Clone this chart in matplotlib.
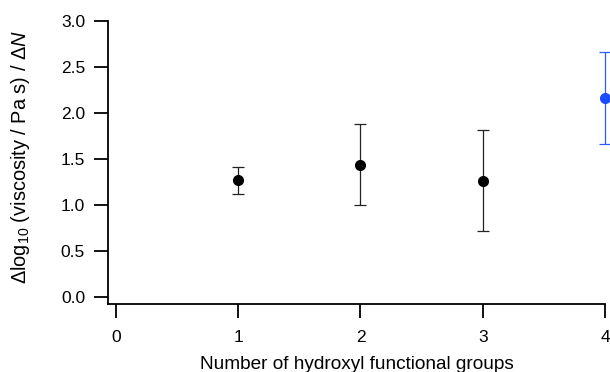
import matplotlib
matplotlib.use('Agg')
import matplotlib.pyplot as plt

plt.rcParams['font.family'] = ['Liberation Sans', 'DejaVu Sans']
plt.rcParams['mathtext.fontset'] = 'custom'
plt.rcParams['mathtext.rm'] = 'Liberation Sans'
plt.rcParams['mathtext.it'] = 'Liberation Sans:italic'

# slope of log viscosity per added functional group
groups = [1, 2, 3]
slope = [1.27, 1.44, 1.265]
slope_err = [0.145, 0.44, 0.545]

groups_hl = [4]
slope_hl = [2.16]
slope_hl_err = [0.50]

x_ticks = [0, 1, 2, 3, 4]
y_ticks = [0.0, 0.5, 1.0, 1.5, 2.0, 2.5, 3.0]

fig = plt.figure(figsize=(6.1, 3.72), dpi=100)
ax = fig.add_axes([108 / 610, (372 - 304) / 372, (605 - 108) / 610, (304 - 21) / 372])

ax.errorbar(groups, slope, yerr=slope_err, fmt='o', color='black', ms=7,
            ecolor='#222222', elinewidth=0.9, capsize=4.5, capthick=0.9, clip_on=False)
ax.errorbar(groups_hl, slope_hl, yerr=slope_hl_err, fmt='o', color='#1a4cff', ms=7,
            ecolor='#2a5cff', elinewidth=0.9, capsize=4.5, capthick=0.9, clip_on=False)

ax.set_xlim(-0.065, 4.0)
ax.set_ylim(-0.076, 3.0)
ax.set_xticks(x_ticks)
ax.set_yticks(y_ticks)
ax.set_yticklabels(['%.1f' % v for v in y_ticks])

for side in ['top', 'right']:
    ax.spines[side].set_visible(False)
for side in ['left', 'bottom']:
    ax.spines[side].set_linewidth(1.3)
ax.tick_params(direction='out', length=10, width=1.3, labelsize=12.5)
ax.tick_params(axis='x', pad=8.5)
ax.tick_params(axis='y', pad=6.5)

ax.set_xlabel('Number of hydroxyl functional groups', fontsize=13.7, labelpad=8)
ax.set_ylabel(r'$\Delta$log$_{10}$ (viscosity / Pa s) / $\Delta N$', fontsize=14.4, labelpad=21)
ax.yaxis.label.set_y(0.52)

fig.savefig('out.png', dpi=100)
